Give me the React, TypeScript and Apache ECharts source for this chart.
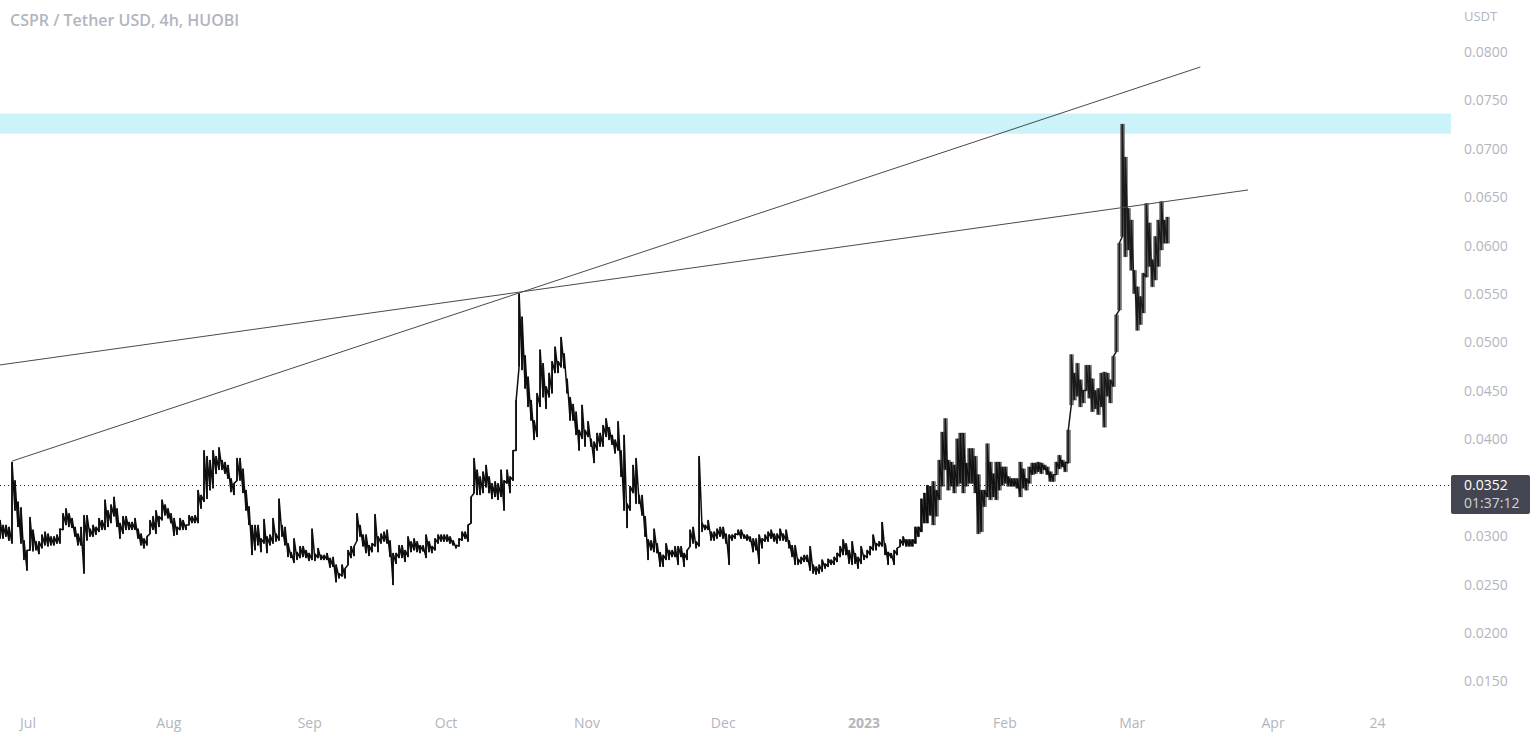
import React, { useEffect, useRef } from "react";
import * as echarts from "echarts";

const symbolTitle = "CSPR / Tether USD, 4h, HUOBI";
const quoteLabel = "USDT";
const lastPriceLabel = "0.0352";
const countdownLabel = "01:37:12";
const LAST_PRICE = 0.0352;

const highs = [
  316,311,311,309,376,357,335,329,295,285,319,306,294,294,301,304,302,299,299,301,307,323,328,323,318,309,302,309,321,321,307,311,309,318,316,337,326,332,340,328,313,320,320,314,314,318,307,302,297,299,316,320,326,320,337,332,328,323,318,309,318,316,311,321,320,321,347,342,388,382,378,388,382,391,378,376,373,359,354,380,380,369,347,330,311,311,311,297,317,299,301,318,302,338,311,309,292,283,297,283,289,289,285,282,307,281,287,280,280,282,277,278,270,261,270,266,285,289,289,323,311,301,301,290,292,322,299,302,304,306,295,282,282,290,290,285,299,294,297,294,290,
  290,301,294,289,297,301,301,301,301,299,295,290,297,304,304,311,340,380,368,361,366,373,361,354,356,354,368,357,368,361,388,440,550,526,486,464,440,419,447,492,478,454,468,480,495,480,505,488,462,443,436,428,409,435,409,418,400,397,406,406,414,421,412,404,399,418,388,404,333,351,373,380,342,342,320,296,295,307,292,283,280,292,285,285,289,289,289,282,285,306,309,294,382,313,311,316,304,304,307,309,309,302,301,301,302,306,306,301,301,299,297,297,301,297,301,304,306,302,302,307,302,306,295,290,290,276,278,280,280,289,270,268,270,275,271,276,275,278,282,289,
  296,292,285,294,282,278,289,280,285,289,301,292,294,314,292,283,282,285,287,296,299,296,296,296,309,309,338,344,352,351,356,347,378,407,421,378,376,373,400,406,406,375,390,390,382,363,347,347,395,376,364,376,376,371,371,361,359,359,359,376,369,359,371,375,375,376,375,373,371,366,363,376,383,378,376,409,
  487,468,478,461,450,476,476,462,450,452,468,469,468,461,485,528,602,725,691,638,626,574,557,547,571,643,623,585,609,626,645,626,629,
];
const lows = [
  297,297,299,295,292,326,309,292,275,264,285,284,285,281,287,290,289,290,290,292,292,306,311,309,308,299,290,290,261,295,299,299,301,304,306,306,309,313,320,309,297,302,306,306,306,306,297,290,287,290,302,306,302,309,316,321,318,313,300,301,306,306,306,311,313,313,313,328,335,338,347,349,364,368,368,364,359,345,342,357,357,344,326,311,280,285,290,283,292,282,290,292,294,295,299,290,278,277,272,275,277,278,277,274,275,274,277,275,275,275,267,268,252,256,258,256,270,277,279,295,299,289,282,279,283,289,283,292,294,292,278,249,271,277,277,273,278,283,285,283,282,
  284,277,283,282,285,292,294,294,294,292,290,287,289,295,297,294,313,344,342,342,344,350,344,338,340,337,340,326,354,344,357,388,475,471,452,433,419,399,402,433,443,431,443,447,468,468,474,473,447,419,419,404,388,400,392,402,392,375,388,392,392,402,399,394,385,388,361,326,308,326,344,333,333,321,299,275,285,283,282,268,268,275,275,278,278,270,278,268,275,289,292,287,289,304,306,306,295,295,297,299,297,292,270,295,297,301,297,297,295,294,283,285,271,287,294,294,297,294,292,295,295,294,287,278,270,270,271,273,273,264,261,260,261,263,266,268,270,270,273,278,
  280,280,271,270,271,266,271,275,277,280,285,285,289,289,280,270,277,270,280,289,290,289,289,289,292,299,304,313,313,321,311,320,337,351,368,347,351,344,351,354,344,351,354,354,344,302,304,330,340,337,340,337,347,352,354,351,351,351,349,340,349,347,354,363,364,366,364,368,363,356,356,363,369,371,366,375,
  435,440,444,433,437,450,442,428,431,425,433,412,444,437,454,490,533,609,588,595,574,550,512,518,530,567,578,557,564,578,595,602,602,
];

const TICK_UNIT = 10000;
const THIN_END = 310;
const MID_END = 356;

const priceTicks = [0.015, 0.02, 0.025, 0.03, 0.04, 0.045, 0.05, 0.055, 0.06, 0.065, 0.07, 0.075, 0.08];
const monthTicks: [number, string][] = [
  [Date.UTC(2022, 6, 1), "Jul"],
  [Date.UTC(2022, 7, 1), "Aug"],
  [Date.UTC(2022, 8, 1), "Sep"],
  [Date.UTC(2022, 9, 1), "Oct"],
  [Date.UTC(2022, 10, 1), "Nov"],
  [Date.UTC(2022, 11, 1), "Dec"],
  [Date.UTC(2023, 0, 1), "2023"],
  [Date.UTC(2023, 1, 1), "Feb"],
  [Date.UTC(2023, 2, 1), "Mar"],
  [Date.UTC(2023, 3, 1), "Apr"],
  [Date.UTC(2023, 3, 24), "24"],
];

const AXIS_START = Date.UTC(2022, 5, 24, 20);
const AXIS_END = Date.UTC(2023, 4, 10, 4);
const STEP_MS = 15.85 * 3600 * 1000;

const trendLineA = [[Date.UTC(2022, 5, 27, 12), 0.0377], [Date.UTC(2023, 2, 16), 0.0784]];
const trendLineB = [[AXIS_START, 0.04763], [Date.UTC(2023, 2, 26, 12), 0.0657]];
const zone = [0.0715, 0.0736];

const TEXT = "#b2b5be";
const FONT = "Open Sans";

const candles = highs.map((h, i) => {
  const high = h / TICK_UNIT;
  const low = lows[i] / TICK_UNIT;
  return [AXIS_START + i * STEP_MS, low, high, low, high];
});

function candleSeries(data: number[][], width: number, fill: string) {
  return {
    type: "candlestick",
    silent: true,
    barWidth: width,
    data,
    itemStyle: { color: fill, color0: fill, borderColor: fill, borderColor0: fill, borderWidth: 0.5 },
  };
}

// Joins each candle's low and high to the next one, so that the dense 4h candles read as one jagged band.
function rangeTrace(data: number[][], width: number, colour: string) {
  return {
    type: "line",
    silent: true,
    symbol: "none",
    data: data.flatMap((c) => [[c[0], c[3]], [c[0], c[4]]]),
    lineStyle: { color: colour, width, join: "bevel" },
  };
}

export default function App() {
  const ref = useRef<HTMLDivElement>(null);
  useEffect(() => {
    document.body.style.margin = "0";
    const chart = echarts.init(ref.current!, undefined, { renderer: "svg" });
    chart.setOption({
      animation: false,
      backgroundColor: "#ffffff",
      textStyle: { fontFamily: FONT },
      title: {
        text: symbolTitle,
        left: 5,
        top: 7,
        textStyle: { color: TEXT, fontSize: 16, fontWeight: 600, fontFamily: FONT },
      },
      grid: { left: 0, top: 0, width: 1451, height: 700 },
      xAxis: {
        type: "value",
        scale: true,
        min: AXIS_START,
        max: AXIS_END,
        axisLine: { show: false },
        axisTick: { show: false },
        splitLine: { show: false },
        axisLabel: {
          customValues: monthTicks.map((m) => m[0]),
          hideOverlap: false,
          showMinLabel: true,
          showMaxLabel: true,
          margin: 15,
          color: TEXT,
          fontSize: 14,
          fontFamily: FONT,
          formatter: (v: number) => {
            const found = monthTicks.find((m) => m[0] === v);
            const label = found ? found[1] : "";
            return label === "2023" ? `{b|${label}}` : label;
          },
          rich: { b: { fontWeight: "bold", color: TEXT, fontSize: 14, fontFamily: FONT } },
        },
      },
      yAxis: {
        type: "value",
        position: "right",
        min: 0.013027,
        max: 0.085319,
        axisLine: { show: false },
        axisTick: { show: false },
        splitLine: { show: false },
        axisLabel: {
          customValues: priceTicks,
          margin: 13,
          color: TEXT,
          fontSize: 14,
          fontFamily: FONT,
          formatter: (v: number) => v.toFixed(4),
        },
      },
      graphic: [
        { type: "text", x: 1464, y: 9, silent: true, style: { text: quoteLabel, fill: TEXT, font: `13px '${FONT}'` } },
        { type: "rect", x: 1451, y: 475, silent: true, shape: { width: 79, height: 39, r: 2 }, style: { fill: "#434651" } },
        { type: "text", x: 1464, y: 477, silent: true, style: { text: lastPriceLabel, fill: "#ffffff", font: `14px '${FONT}'` } },
        { type: "text", x: 1464, y: 495, silent: true, style: { text: countdownLabel, fill: "#d1d4dc", font: `14px '${FONT}'` } },
      ],
      series: [
        {
          type: "line",
          silent: true,
          data: [],
          markArea: {
            silent: true,
            itemStyle: { color: "#ccf3f9" },
            data: [[{ xAxis: AXIS_START, yAxis: zone[0] }, { xAxis: AXIS_END, yAxis: zone[1] }]],
          },
          markLine: {
            silent: true,
            symbol: "none",
            precision: 4,
            label: { show: false },
            lineStyle: { color: "#222222", type: [1, 3], width: 1 },
            data: [{ yAxis: LAST_PRICE }],
          },
        },
        candleSeries(candles.slice(0, THIN_END), 2, "#0d0d0d"),
        candleSeries(candles.slice(THIN_END, MID_END), 4, "rgba(40,40,40,0.65)"),
        candleSeries(candles.slice(MID_END), 5, "rgba(60,60,60,0.7)"),
        rangeTrace(candles.slice(0, THIN_END + 1), 1.5, "#0d0d0d"),
        rangeTrace(candles.slice(THIN_END, MID_END + 1), 1.4, "#111111"),
        rangeTrace(candles.slice(MID_END), 1.5, "#1a1a1a"),
        { type: "line", silent: true, symbol: "none", data: trendLineA, lineStyle: { color: "#4a4a4a", width: 1 } },
        { type: "line", silent: true, symbol: "none", data: trendLineB, lineStyle: { color: "#4a4a4a", width: 1 } },
      ],
    });
    return () => chart.dispose();
  }, []);
  return <div ref={ref} style={{ position: "absolute", left: 0, top: 0, width: 1536, height: 740 }} />;
}
